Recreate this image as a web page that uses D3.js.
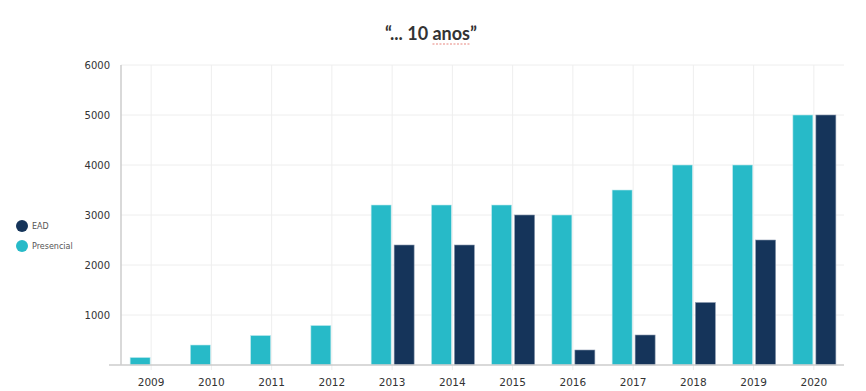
<!DOCTYPE html>
<html>
<head>
<meta charset="utf-8">
<script src="https://cdn.jsdelivr.net/npm/d3@7"></script>
<style>
  body { margin: 0; background: #fff; }
  svg { display: block; }
</style>
</head>
<body>
<div id="chart"></div>
<script>
// Chart data
const years = ['2009', '2010', '2011', '2012', '2013', '2014', '2015', '2016', '2017', '2018', '2019', '2020'];
const presencial = [150, 400, 590, 790, 3200, 3200, 3200, 3000, 3500, 4000, 4000, 5000];
const ead = [0, 0, 0, 0, 2400, 2400, 3000, 300, 600, 1250, 2500, 5000];
const yTicks = [1000, 2000, 3000, 4000, 5000, 6000];
const seriesNames = ['EAD', 'Presencial'];
const seriesColors = ['#15345a', '#27bac8'];

const width = 866;
const height = 391;
const margin = { top: 65, right: 22, bottom: 26, left: 121 };

const svg = d3.select('#chart').append('svg')
  .attr('width', width)
  .attr('height', height);

const x = d3.scaleBand()
  .domain(years)
  .range([margin.left, width - margin.right]);

const y = d3.scaleLinear()
  .domain([0, 6000])
  .range([height - margin.bottom, margin.top]);

// Title
const title = svg.append('text')
  .attr('x', 431)
  .attr('y', 40)
  .attr('text-anchor', 'middle')
  .style('font-family', 'Lato, "Open Sans", sans-serif')
  .style('font-size', '18px')
  .style('font-weight', 'bold')
  .style('fill', '#333');
title.append('tspan').text('\u201C... 10 ');
const titleWord = title.append('tspan').text('anos');
title.append('tspan').text('\u201D');

// dotted spell-check underline under "anos", as in the source screenshot
const wordBox = titleWord.node().getBBox();
svg.append('line')
  .attr('x1', wordBox.x)
  .attr('x2', wordBox.x + wordBox.width)
  .attr('y1', 44)
  .attr('y2', 44)
  .attr('stroke', '#e8867e')
  .attr('stroke-width', 1.2)
  .attr('stroke-dasharray', '2,1.5');

// Horizontal gridlines
svg.append('g')
  .attr('class', 'grid-y')
  .selectAll('line')
  .data(yTicks)
  .join('line')
  .attr('x1', margin.left)
  .attr('x2', width - margin.right)
  .attr('y1', d => y(d))
  .attr('y2', d => y(d))
  .attr('stroke', '#eeeeee')
  .attr('stroke-width', 1);

// Vertical gridlines at category centers
svg.append('g')
  .attr('class', 'grid-x')
  .selectAll('line')
  .data(years)
  .join('line')
  .attr('x1', d => x(d) + x.bandwidth() / 2)
  .attr('x2', d => x(d) + x.bandwidth() / 2)
  .attr('y1', y(6000))
  .attr('y2', y(0) + 5)
  .attr('stroke', '#eeeeee')
  .attr('stroke-width', 1);

// Bars
const barW = 20;
const bars = svg.append('g').attr('class', 'bars');
bars.selectAll('rect.presencial')
  .data(years.map((yr, i) => ({ yr, v: presencial[i] })))
  .join('rect')
  .attr('class', 'presencial')
  .attr('x', d => x(d.yr) + x.bandwidth() / 2 - barW - 1)
  .attr('y', d => y(d.v))
  .attr('width', barW)
  .attr('height', d => y(0) - y(d.v))
  .attr('fill', seriesColors[1])
  .attr('stroke', '#bfeaee')
  .attr('stroke-width', 0.6);

bars.selectAll('rect.ead')
  .data(years.map((yr, i) => ({ yr, v: ead[i] })).filter(d => d.v > 0))
  .join('rect')
  .attr('class', 'ead')
  .attr('x', d => x(d.yr) + x.bandwidth() / 2 + 2)
  .attr('y', d => y(d.v))
  .attr('width', barW)
  .attr('height', d => y(0) - y(d.v))
  .attr('fill', seriesColors[0])
  .attr('stroke', '#8a9ab0')
  .attr('stroke-width', 0.6);

// Axis lines
svg.append('line')
  .attr('x1', margin.left)
  .attr('x2', margin.left)
  .attr('y1', y(6000))
  .attr('y2', y(0))
  .attr('stroke', '#cccccc')
  .attr('stroke-width', 1.5);

svg.append('line')
  .attr('x1', margin.left - 12)
  .attr('x2', width - margin.right)
  .attr('y1', y(0))
  .attr('y2', y(0))
  .attr('stroke', '#cccccc')
  .attr('stroke-width', 1.5);

// Y tick labels
svg.append('g')
  .attr('class', 'y-labels')
  .selectAll('text')
  .data(yTicks)
  .join('text')
  .attr('x', margin.left - 11)
  .attr('y', d => y(d) + 4)
  .attr('text-anchor', 'end')
  .style('font-family', '"DejaVu Sans", sans-serif')
  .style('font-size', '10px')
  .style('fill', '#333')
  .text(d => d);

// X tick labels
svg.append('g')
  .attr('class', 'x-labels')
  .selectAll('text')
  .data(years)
  .join('text')
  .attr('x', d => x(d) + x.bandwidth() / 2)
  .attr('y', 386)
  .attr('text-anchor', 'middle')
  .style('font-family', '"DejaVu Sans", sans-serif')
  .style('font-size', '10.5px')
  .style('fill', '#333')
  .text(d => d);

// Legend
const legend = svg.append('g').attr('class', 'legend');
const legendItems = legend.selectAll('g')
  .data(seriesNames)
  .join('g')
  .attr('transform', (d, i) => `translate(22, ${226 + i * 20})`);
legendItems.append('circle')
  .attr('r', 6)
  .attr('fill', (d, i) => seriesColors[i]);
legendItems.append('text')
  .attr('x', 10)
  .attr('y', 3)
  .style('font-family', '"DejaVu Sans", sans-serif')
  .style('font-size', '8px')
  .style('fill', '#555')
  .text(d => d);
</script>
</body>
</html>
